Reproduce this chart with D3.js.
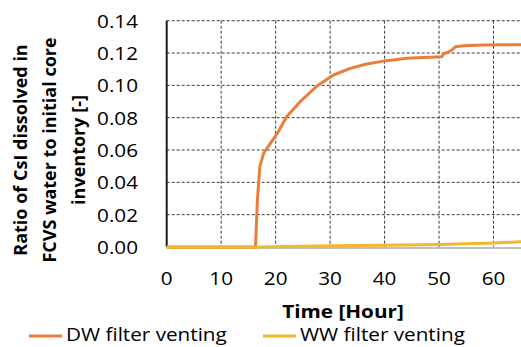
<!DOCTYPE html>
<html lang="en">
<head>
    <meta charset="UTF-8">
    <title>CsI ratio chart</title>
    <script src="https://d3js.org/d3.v7.min.js"></script>
    <style>
        body {
            margin: 0;
            background: #fff;
        }
        svg text {
            font-family: "Open Sans", sans-serif;
            fill: #000;
        }
        .tick-label {
            font-size: 18px;
        }
        .axis-title {
            font-size: 18px;
            font-weight: bold;
        }
        .legend-label {
            font-size: 18px;
        }
    </style>
</head>
<body>
    <svg id="chart"></svg>

    <script>
        // Data
        const xTicks = [0, 10, 20, 30, 40, 50, 60];
        const yTicks = [0, 0.02, 0.04, 0.06, 0.08, 0.10, 0.12, 0.14];

        const dwHours = [0, 16.3, 16.65, 17.1, 17.8, 19.0, 20.5, 22.0, 24.5, 27.6, 30.6, 33.7, 36.7, 39.8, 41.6, 44.1, 47.2, 50.5, 50.8, 51.7, 52.4, 53.0, 54.5, 58.2, 66];
        const dwValues = [0, 0, 0.029, 0.0497, 0.058, 0.064, 0.0713, 0.0806, 0.0899, 0.0996, 0.1064, 0.1105, 0.1132, 0.115, 0.1157, 0.1167, 0.1173, 0.1177, 0.1194, 0.1206, 0.1219, 0.1239, 0.1245, 0.1249, 0.1252];

        const wwHours = [0, 17, 30, 40, 50, 60, 66];
        const wwValues = [0, 0, 0.0007, 0.0011, 0.0016, 0.0025, 0.0033];

        const seriesNames = ["DW filter venting", "WW filter venting"];
        const seriesColors = ["#EB7D3A", "#F4B92A"];

        const width = 521;
        const height = 347;
        const stretch = 1.15; // horizontal text is a bit wide in the original

        const svg = d3.select("#chart")
            .attr("width", width)
            .attr("height", height);

        // Scales (the right side of the plot runs past the picture edge)
        const x = d3.scaleLinear().domain([0, 70]).range([166.7, 548]);
        const y = d3.scaleLinear().domain([0, 0.14]).range([247, 20.7]);

        // Dashed grid
        svg.append("g")
            .selectAll("line")
            .data(yTicks.slice(1))
            .enter().append("line")
            .attr("x1", x(0)).attr("x2", width)
            .attr("y1", d => y(d)).attr("y2", d => y(d))
            .attr("stroke", "#3a3a3a")
            .attr("stroke-width", 1)
            .attr("stroke-dasharray", "3,2");

        svg.append("g")
            .selectAll("line")
            .data(xTicks.slice(1))
            .enter().append("line")
            .attr("x1", d => x(d)).attr("x2", d => x(d))
            .attr("y1", y(0.14)).attr("y2", y(0))
            .attr("stroke", "#3a3a3a")
            .attr("stroke-width", 1)
            .attr("stroke-dasharray", "3,2");

        // Axis lines
        svg.append("line")
            .attr("x1", x(0)).attr("x2", width)
            .attr("y1", y(0) + 1).attr("y2", y(0) + 1)
            .attr("stroke", "#bfbfbf")
            .attr("stroke-width", 2);

        svg.append("line")
            .attr("x1", x(0)).attr("x2", x(0))
            .attr("y1", y(0.14)).attr("y2", y(0))
            .attr("stroke", "#1a1a1a")
            .attr("stroke-width", 2);

        // Tick labels
        svg.append("g")
            .selectAll("text")
            .data(yTicks)
            .enter().append("text")
            .attr("class", "tick-label")
            .attr("transform", d => `translate(138,${y(d) + 7}) scale(${stretch},1)`)
            .attr("text-anchor", "end")
            .text(d => d.toFixed(2));

        svg.append("g")
            .selectAll("text")
            .data(xTicks)
            .enter().append("text")
            .attr("class", "tick-label")
            .attr("transform", d => `translate(${x(d)},285) scale(${stretch},1)`)
            .attr("text-anchor", "middle")
            .text(d => d);

        // Axis titles
        svg.append("text")
            .attr("class", "axis-title")
            .attr("transform", `translate(343,318) scale(${stretch},1)`)
            .attr("text-anchor", "middle")
            .text("Time [Hour]");

        const yTitle = ["Ratio of CsI dissolved in", "FCVS water to initial core", "inventory [-]"];
        svg.append("g")
            .attr("transform", "translate(26.5,150) rotate(-90)")
            .selectAll("text")
            .data(yTitle)
            .enter().append("text")
            .attr("class", "axis-title")
            .attr("x", 0)
            .attr("y", (d, i) => i * 29)
            .attr("text-anchor", "middle")
            .text(d => d);

        // Lines
        const line = d3.line()
            .x(d => x(d[0]))
            .y(d => y(d[1]));

        const wwData = wwHours.map((h, i) => [h, wwValues[i]]);
        const dwData = dwHours.map((h, i) => [h, dwValues[i]]);

        svg.append("path")
            .datum(dwData)
            .attr("fill", "none")
            .attr("stroke", seriesColors[0])
            .attr("stroke-width", 3)
            .attr("stroke-linejoin", "round")
            .attr("d", line);

        svg.append("path")
            .datum(wwData)
            .attr("fill", "none")
            .attr("stroke", seriesColors[1])
            .attr("stroke-width", 3)
            .attr("stroke-linejoin", "round")
            .attr("d", line);

        // Legend
        const legendX = [29, 263];
        const legend = svg.append("g")
            .selectAll("g")
            .data(seriesNames)
            .enter().append("g")
            .attr("transform", (d, i) => `translate(${legendX[i]},336)`);

        legend.append("line")
            .attr("x1", 0).attr("x2", 33)
            .attr("y1", 0).attr("y2", 0)
            .attr("stroke", (d, i) => seriesColors[i])
            .attr("stroke-width", 3);

        legend.append("text")
            .attr("class", "legend-label")
            .attr("transform", `translate(37,5) scale(${stretch},1)`)
            .text(d => d);
    </script>
</body>
</html>
